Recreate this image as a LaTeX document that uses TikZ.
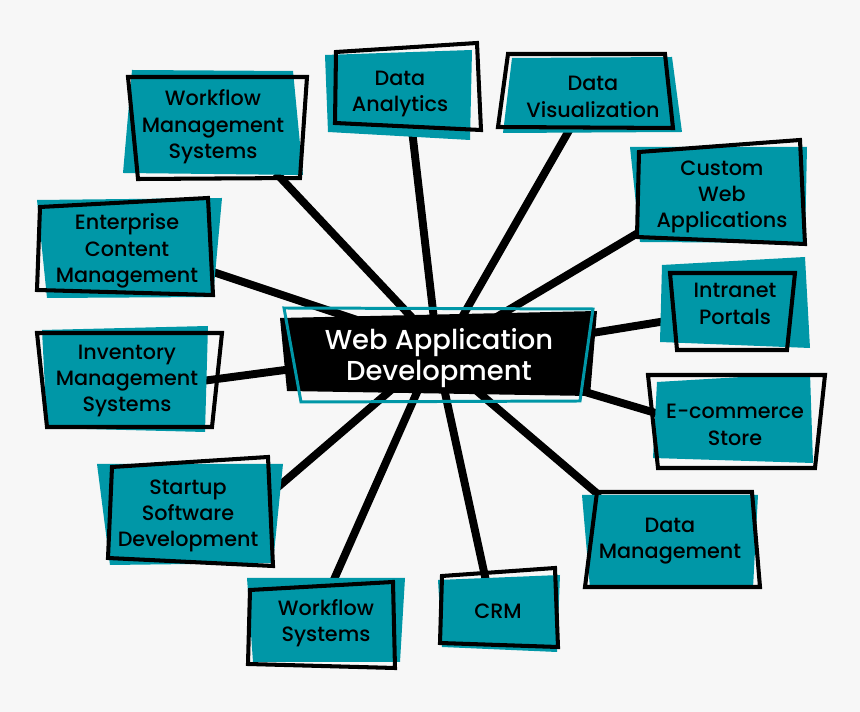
\documentclass[tikz,border=0pt]{standalone}
\usepackage{fontspec}
\setmainfont{Poppins}[UprightFont={* Medium}]
\definecolor{teal1}{RGB}{0,151,167}
\definecolor{paper}{RGB}{247,247,247}
\pgfdeclarelayer{back}
\pgfdeclarelayer{mid}
\pgfsetlayers{back,mid,main}

\begin{document}
\begin{tikzpicture}[x=0.02cm, y=-0.02cm,
  lbl/.style={align=center, font=\fontsize{11.8}{15}\selectfont, inner sep=0pt},
  hubtext/.style={align=center, text=white, font=\fontsize{15.6}{17.6}\selectfont, inner sep=0pt},
  link/.style={line width=4.5pt},
  plate/.style={fill=teal1},
  rim/.style={draw=black, line width=2.3pt},
  hubrim/.style={draw=teal1, line width=1.7pt}]
  \node[hubtext] (hub) at (439,358) {Web Application\\Development};

  \node[lbl] (wms) at (213,127) {Workflow\\Management\\Systems};
  \node[lbl] (da) at (400,94) {Data\\Analytics};
  \node[lbl] (dv) at (593,97) {Data\\Visualization};
  \node[lbl] (cwa) at (722,197) {Custom\\Web\\Applications};
  \node[lbl] (ecm) at (127,251) {Enterprise\\Content\\Management};
  \node[lbl] (ims) at (127,381) {Inventory\\Management\\Systems};
  \node[lbl] (ip) at (735,304) {Intranet\\Portals};
  \node[lbl] (ecs) at (735,425) {E-commerce\\Store};
  \node[lbl] (ssd) at (188,516) {Startup\\Software\\Development};
  \node[lbl] (ws) at (326,623) {Workflow\\Systems};
  \node[lbl] (crm) at (498,611) {CRM};
  \node[lbl] (dm) at (670,541) {Data\\Management};

  \begin{pgfonlayer}{back}
    \fill[paper] (0,0) rectangle (860,712);
    \draw[link] ([shift={(63,46)}]wms.center) -- ([shift={(-21,-34)}]hub.center);
    \draw[link] ([shift={(12,36)}]da.center) -- ([shift={(-4,-30)}]hub.center);
    \draw[link] ([shift={(-22,30)}]dv.center) -- ([shift={(18,-32)}]hub.center);
    \draw[link] ([shift={(-79,33)}]cwa.center) -- ([shift={(51,-37)}]hub.center);
    \draw[link] ([shift={(80,19)}]ecm.center) -- ([shift={(-73,-35)}]hub.center);
    \draw[link] ([shift={(75,0)}]ims.center) -- ([shift={(-139,10)}]hub.center);
    \draw[link] ([shift={(-69,17)}]ip.center) -- ([shift={(141,-23)}]hub.center);
    \draw[link] ([shift={(-76,-11)}]ecs.center) -- ([shift={(136,31)}]hub.center);
    \draw[link] ([shift={(90,-29)}]ssd.center) -- ([shift={(-41,26)}]hub.center);
    \draw[link] ([shift={(6,-39)}]ws.center) -- ([shift={(-17,23)}]hub.center);
    \draw[link] ([shift={(-12,-30)}]crm.center) -- ([shift={(3,21)}]hub.center);
    \draw[link] ([shift={(-70,-45)}]dm.center) -- ([shift={(32,28)}]hub.center);
  \end{pgfonlayer}

  \begin{pgfonlayer}{mid}
    \fill[plate] (132,70) -- (293,71) -- (303,175) -- (123,173) -- cycle;
    \draw[rim] (128,77) -- (307,77) -- (300,178) -- (138,179) -- cycle;
    \fill[plate] (325,55) -- (472,50) -- (470,140) -- (328,132) -- cycle;
    \draw[rim] (336,52) -- (477,43) -- (481,130) -- (335,123) -- cycle;
    \fill[plate] (512,58) -- (672,57) -- (682,132) -- (503,133) -- cycle;
    \draw[rim] (508,54) -- (665,54) -- (673,128) -- (498,127) -- cycle;
    \fill[plate] (630,147) -- (807,147) -- (805,243) -- (640,242) -- cycle;
    \draw[rim] (639,152) -- (800,140) -- (805,244) -- (637,237) -- cycle;
    \fill[plate] (37,200) -- (222,198) -- (213,297) -- (47,298) -- cycle;
    \draw[rim] (40,207) -- (208,198) -- (213,295) -- (37,290) -- cycle;
    \fill[plate] (42,330) -- (208,326) -- (205,432) -- (47,428) -- cycle;
    \draw[rim] (37,333) -- (222,333) -- (212,427) -- (47,427) -- cycle;
    \fill[plate] (662,265) -- (805,257) -- (810,348) -- (660,342) -- cycle;
    \draw[rim] (670,273) -- (795,273) -- (787,350) -- (677,350) -- cycle;
    \fill[plate] (657,382) -- (810,373) -- (813,463) -- (653,458) -- cycle;
    \draw[rim] (648,375) -- (825,375) -- (815,468) -- (658,468) -- cycle;
    \fill[plate] (97,464) -- (283,464) -- (273,563) -- (110,565) -- cycle;
    \draw[rim] (112,467) -- (268,457) -- (273,566) -- (108,558) -- cycle;
    \fill[plate] (247,578) -- (405,578) -- (400,662) -- (253,662) -- cycle;
    \draw[rim] (250,590) -- (393,582) -- (395,668) -- (248,664) -- cycle;
    \fill[plate] (438,580) -- (560,575) -- (557,652) -- (442,647) -- cycle;
    \draw[rim] (442,576) -- (555,568) -- (558,647) -- (440,643) -- cycle;
    \fill[plate] (582,495) -- (758,495) -- (753,588) -- (590,588) -- cycle;
    \draw[rim] (597,492) -- (752,492) -- (760,587) -- (585,587) -- cycle;

    \fill (280,318) -- (597,311) -- (590,396) -- (287,391) -- cycle;
    \draw[hubrim] (284,308) -- (593,309) -- (580,401) -- (301,402) -- cycle;
  \end{pgfonlayer}
\end{tikzpicture}
\end{document}
